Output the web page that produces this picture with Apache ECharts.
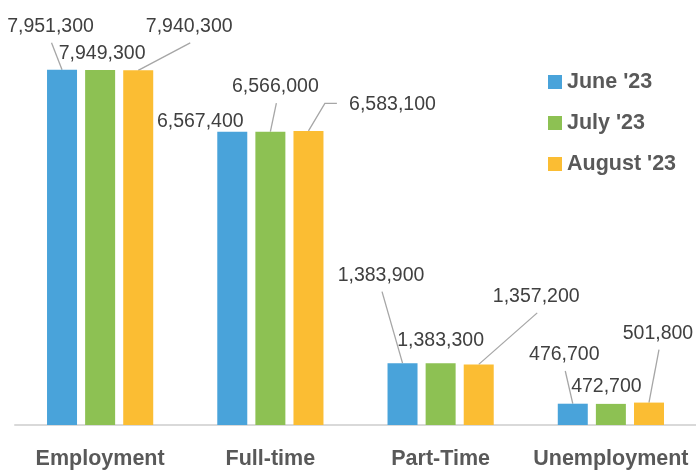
<!DOCTYPE html>
<html>
<head>
<meta charset="utf-8">
<script src="https://cdn.jsdelivr.net/npm/echarts@6/dist/echarts.min.js"></script>
<style>
  html, body { margin: 0; padding: 0; background: #fff; }
  #main { width: 696px; height: 473px; }
</style>
</head>
<body>
<div id="main"></div>
<script>
  // categories + series values
  var categories = ['Employment', 'Full-time', 'Part-Time', 'Unemployment'];
  var seriesNames = ["June '23", "July '23", "August '23"];
  var june = [7951300, 6567400, 1383900, 476700];
  var july = [7949300, 6566000, 1383300, 472700];
  var august = [7940300, 6583100, 1357200, 501800];

  // where each moved data label sits, relative to the top centre of its bar
  var labelShift = [
    [[-11.5, -45], [-32, -11.7], [-21.5, -89.5], [-8.5, -50.7]],
    [[2, -18], [5, -46.7], [0, -25], [-4.5, -19]],
    [[51, -45.5], [84, -28], [57.5, -69.5], [9, -71]]
  ];
  // 0 = no leader, 1 = straight leader to label bottom, 2 = elbow to label left
  var leaderType = [
    [1, 0, 1, 1],
    [0, 1, 0, 0],
    [1, 2, 1, 1]
  ];

  var colors = ['#49A3DA', '#8DC153', '#FBBD33'];
  var font = '"Liberation Sans", Arial, sans-serif';
  var barW = 30;
  var gapRatio = 0.27;
  var textFix = 2;   // digits sit a little high in the label box

  function fmt(v) {
    return v.toString().replace(/\B(?=(\d{3})+(?!\d))/g, ',');
  }

  function makeLayout(si) {
    return function (params) {
      var off = labelShift[si][params.dataIndex];
      var r = params.rect, lr = params.labelRect;
      var bx = r.x + r.width / 2, by = Math.min(r.y, r.y + r.height);
      return {
        dx: bx + off[0] - (lr.x + lr.width / 2),
        dy: by + off[1] + textFix - (lr.y + lr.height / 2)
      };
    };
  }

  var allValues = [june, july, august];
  var series = [];
  var leaderData = [];
  for (var s = 0; s < 3; s++) {
    for (var i = 0; i < allValues[s].length; i++) {
      if (leaderType[s][i] > 0) {
        leaderData.push([i, allValues[s][i], s]);
      }
    }
    series.push({
      name: seriesNames[s],
      type: 'bar',
      barWidth: barW,
      barGap: (gapRatio * 100) + '%',
      itemStyle: { color: colors[s] },
      data: allValues[s],
      z: 2,
      label: {
        show: true,
        position: 'top',
        distance: 5,
        fontFamily: font,
        fontSize: 19.5,
        color: '#404040',
        formatter: function (p) { return fmt(p.value); }
      },
      labelLayout: makeLayout(s)
    });
  }

  // leader lines: from bar top centre to the moved label
  series.push({
    name: 'leaders',
    type: 'custom',
    silent: true,
    z: 1,
    data: leaderData,
    renderItem: function (params, api) {
      var i = api.value(0), v = api.value(1), si = api.value(2);
      var p = api.coord([i, v]);
      var bx = p[0] + (si - 1) * (barW * (1 + gapRatio));
      var by = p[1];
      var off = labelShift[si][i];
      var cx = bx + off[0], cy = by + off[1] + textFix;
      var pts;
      if (leaderType[si][i] == 2) {
        var lx = cx - fmt(v).length * 5.4 - 7;
        pts = [[bx, by], [lx - 12, cy - 1.5], [lx, cy - 1.5]];
      } else {
        pts = [[bx, by], [cx + 1, cy + 16]];
      }
      return {
        type: 'polyline',
        shape: { points: pts },
        style: { stroke: '#A6A6A6', lineWidth: 1.3, fill: null }
      };
    }
  });

  var chart = echarts.init(document.getElementById('main'));
  chart.setOption({
    animation: false,
    grid: { left: 15, right: 0, top: 23, bottom: 48, containLabel: false },
    legend: {
      orient: 'vertical',
      left: 543,
      top: 66,
      icon: 'rect',
      itemWidth: 14,
      itemHeight: 14,
      itemGap: 19,
      data: seriesNames,
      textStyle: {
        fontFamily: font,
        fontSize: 21.5,
        fontWeight: 'bold',
        color: '#595959',
        lineHeight: 22
      }
    },
    xAxis: {
      type: 'category',
      data: categories,
      axisTick: { show: false },
      axisLine: { show: true, lineStyle: { color: '#D9D9D9', width: 2 } },
      axisLabel: {
        interval: 0,
        margin: 23,
        fontFamily: font,
        fontSize: 21.5,
        fontWeight: 'bold',
        color: '#595959'
      }
    },
    yAxis: {
      type: 'value',
      min: 0,
      max: 9000000,
      show: false,
      splitLine: { show: false }
    },
    series: series
  });
</script>
</body>
</html>
